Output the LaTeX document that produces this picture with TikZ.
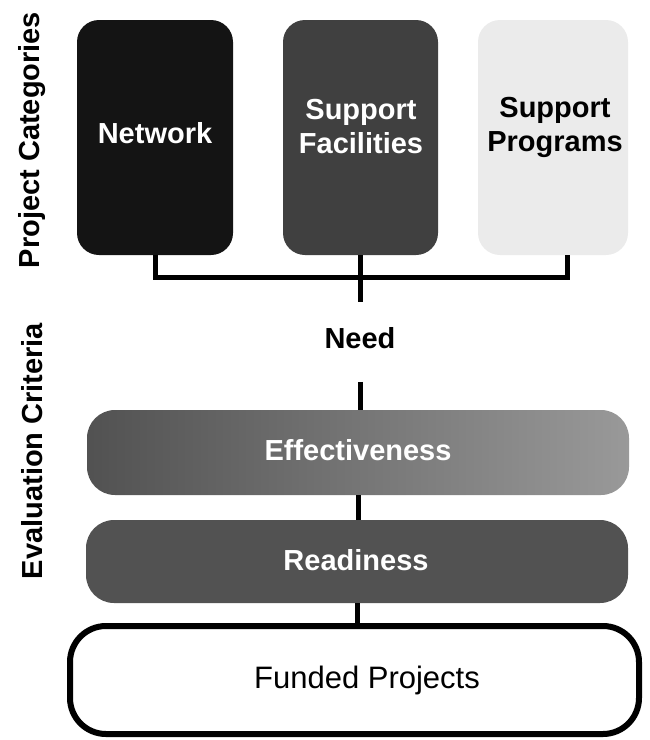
\documentclass[tikz,border=0pt]{standalone}
\usepackage{fontspec}
\setmainfont{Liberation Sans}
\definecolor{netfill}{gray}{0.08}
\definecolor{facfill}{gray}{0.25}
\definecolor{progfill}{gray}{0.92}
\definecolor{reafill}{gray}{0.32}
\begin{document}
\begin{tikzpicture}[x=1pt,y=-1pt,
  catbox/.style={rounded corners=22pt, minimum height=235pt, inner sep=0pt},
  critbox/.style={rounded corners=28pt, minimum width=542pt, inner sep=0pt},
  bigtext/.style={font=\bfseries\fontsize{29}{35}\selectfont, align=center, inner sep=0pt},
  conn/.style={line width=5pt},
  sidelabel/.style={rotate=90, font=\bfseries\fontsize{29}{35}\selectfont, inner sep=0pt}]
\useasboundingbox (0,0) rectangle (649,740);

% side labels
\node[sidelabel] (pc) at (32,140) {Project Categories};
\node[sidelabel] (ec) at (32,451) {Evaluation Criteria};

% category boxes
\node[catbox, fill=netfill, minimum width=156pt] (net) at (155,137.5) {};
\node[catbox, fill=facfill, minimum width=155pt] (fac) at (360.5,137.5) {};
\node[catbox, fill=progfill, minimum width=150pt] (prog) at (553,137.5) {};
\node[bigtext, text=white] (nett) at (155,133) {Network};
\node[bigtext, text=white] (fact) at (361,127) {Support\\[-1pt]Facilities};
\node[bigtext, text=black] (progt) at (555,127) {Support\\[-1pt]Programs};

% connectors from categories
\coordinate (progc) at ([xshift=14pt]prog.south);
\draw[conn] (net.south) -- ++(0,22) -| (progc);
\draw[conn] (fac.south) -- ++(0,47);

% Need
\node[bigtext] (need) at (360,338) {Need};

% criteria boxes
\node[critbox, minimum height=85pt, left color=black!68, middle color=black!63, right color=black!40] (eff) at (358,452.5) {};
\node[critbox, minimum height=83pt, fill=reafill] (rea) at (357,561.5) {};
\node[bigtext, text=white] (efft) at (358,450) {Effectiveness};
\node[bigtext, text=white] (reat) at (356,560) {Readiness};

% funded box
\node[draw=black, line width=6pt, rounded corners=36pt, minimum width=569pt, minimum height=108pt, fill=white, inner sep=0pt] (fund) at (354.5,680) {};
\node[font=\fontsize{31}{37}\selectfont, inner sep=0pt] (fundt) at (367,680) {Funded Projects};

% vertical connectors
\draw[conn] ([yshift=-33pt]need.south) -- (need.south |- eff.north);
\draw[conn] (eff.south) -- (eff.south |- rea.north);
\draw[conn] (rea.south) -- (rea.south |- fund.north);
\end{tikzpicture}
\end{document}
